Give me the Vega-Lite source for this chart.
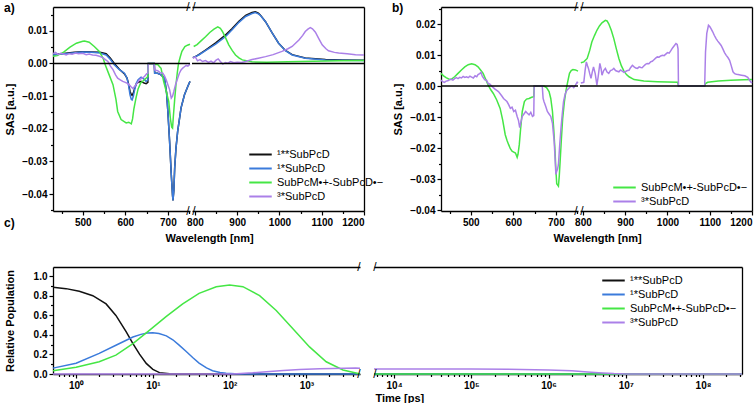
{
"$schema": "https://vega.github.io/schema/vega-lite/v6.json",
"padding": {"left": 4, "top": 1, "right": 4, "bottom": 0},
"datasets": {
"a": [
{"s":"k","w":430,"v":0.0027},{"s":"k","w":445,"v":0.0029},{"s":"k","w":460,"v":0.0031},{"s":"k","w":480,"v":0.0034},{"s":"k","w":500,"v":0.0036},{"s":"k","w":520,"v":0.0035},{"s":"k","w":540,"v":0.0034},{"s":"k","w":555,"v":0.0030},{"s":"k","w":565,"v":0.0016},{"s":"k","w":574,"v":0.0},{"s":"k","w":586,"v":-0.0018},{"s":"k","w":598,"v":-0.0032},{"s":"k","w":604,"v":-0.0045},{"s":"k","w":608,"v":-0.0065},{"s":"k","w":611,"v":-0.0085},{"s":"k","w":614,"v":-0.0095},{"s":"k","w":616,"v":-0.0098},{"s":"k","w":619,"v":-0.009},{"s":"k","w":622,"v":-0.0075},{"s":"k","w":626,"v":-0.0062},{"s":"k","w":630,"v":-0.0058},{"s":"k","w":637,"v":-0.0055},{"s":"k","w":644,"v":-0.006},{"s":"k","w":649,"v":-0.0062},{"s":"k","w":653,"v":-0.0058},{"s":"k","w":654,"v":0},{"s":"k","w":668,"v":0},{"s":"k","w":669,"v":-0.003},{"s":"k","w":676,"v":-0.003},{"s":"k","w":684,"v":-0.0035},{"s":"k","w":692,"v":-0.0045},{"s":"k","w":697,"v":-0.009},{"s":"k","w":700,"v":-0.0147},{"s":"k","w":704,"v":-0.0238},{"s":"k","w":708,"v":-0.034},{"s":"k","w":711,"v":-0.0405},{"s":"k","w":712,"v":-0.042},{"s":"k","w":714,"v":-0.039},{"s":"k","w":716,"v":-0.032},{"s":"k","w":719,"v":-0.026},{"s":"k","w":723,"v":-0.0208},{"s":"k","w":731,"v":-0.0136},{"s":"k","w":739,"v":-0.0096},{"s":"k","w":747,"v":-0.007},{"s":"k","w":752,"v":-0.0055},
{"s":"k","w":795,"v":0.0018},{"s":"k","w":801,"v":0.0021},{"s":"k","w":809,"v":0.0027},{"s":"k","w":825,"v":0.0041},{"s":"k","w":849,"v":0.0063},{"s":"k","w":872,"v":0.0087},{"s":"k","w":888,"v":0.0107},{"s":"k","w":904,"v":0.0129},{"s":"k","w":920,"v":0.0147},{"s":"k","w":935,"v":0.0156},{"s":"k","w":943,"v":0.0158},{"s":"k","w":950,"v":0.0154},{"s":"k","w":955,"v":0.0148},{"s":"k","w":967,"v":0.0128},{"s":"k","w":983,"v":0.0093},{"s":"k","w":998,"v":0.0062},{"s":"k","w":1014,"v":0.004},{"s":"k","w":1030,"v":0.0027},{"s":"k","w":1061,"v":0.0017},{"s":"k","w":1109,"v":0.0012},{"s":"k","w":1150,"v":0.0011},{"s":"k","w":1200,"v":0.001},
{"s":"b","w":430,"v":0.0026},{"s":"b","w":445,"v":0.0028},{"s":"b","w":460,"v":0.003},{"s":"b","w":480,"v":0.0033},{"s":"b","w":500,"v":0.0035},{"s":"b","w":520,"v":0.0034},{"s":"b","w":540,"v":0.0032},{"s":"b","w":555,"v":0.0026},{"s":"b","w":565,"v":0.0012},{"s":"b","w":574,"v":-0.0004},{"s":"b","w":586,"v":-0.0019},{"s":"b","w":598,"v":-0.003},{"s":"b","w":604,"v":-0.0045},{"s":"b","w":608,"v":-0.007},{"s":"b","w":611,"v":-0.0096},{"s":"b","w":614,"v":-0.011},{"s":"b","w":616,"v":-0.0112},{"s":"b","w":619,"v":-0.01},{"s":"b","w":622,"v":-0.008},{"s":"b","w":626,"v":-0.006},{"s":"b","w":630,"v":-0.005},{"s":"b","w":637,"v":-0.0042},{"s":"b","w":644,"v":-0.0048},{"s":"b","w":649,"v":-0.0055},{"s":"b","w":653,"v":-0.005},{"s":"b","w":654,"v":0},{"s":"b","w":668,"v":0},{"s":"b","w":669,"v":-0.003},{"s":"b","w":676,"v":-0.003},{"s":"b","w":684,"v":-0.0035},{"s":"b","w":692,"v":-0.0045},{"s":"b","w":697,"v":-0.009},{"s":"b","w":700,"v":-0.0147},{"s":"b","w":704,"v":-0.0238},{"s":"b","w":708,"v":-0.034},{"s":"b","w":711,"v":-0.0405},{"s":"b","w":712,"v":-0.042},{"s":"b","w":714,"v":-0.039},{"s":"b","w":716,"v":-0.032},{"s":"b","w":719,"v":-0.026},{"s":"b","w":723,"v":-0.0208},{"s":"b","w":731,"v":-0.0136},{"s":"b","w":739,"v":-0.0096},{"s":"b","w":747,"v":-0.007},{"s":"b","w":752,"v":-0.0055},
{"s":"b","w":795,"v":0.0018},{"s":"b","w":801,"v":0.0021},{"s":"b","w":809,"v":0.0026},{"s":"b","w":825,"v":0.0039},{"s":"b","w":849,"v":0.0059},{"s":"b","w":872,"v":0.0082},{"s":"b","w":888,"v":0.0103},{"s":"b","w":904,"v":0.0126},{"s":"b","w":920,"v":0.0144},{"s":"b","w":935,"v":0.0153},{"s":"b","w":943,"v":0.0156},{"s":"b","w":950,"v":0.0152},{"s":"b","w":955,"v":0.0147},{"s":"b","w":967,"v":0.0128},{"s":"b","w":983,"v":0.0093},{"s":"b","w":998,"v":0.0062},{"s":"b","w":1014,"v":0.0039},{"s":"b","w":1030,"v":0.0026},{"s":"b","w":1061,"v":0.0016},{"s":"b","w":1109,"v":0.0011},{"s":"b","w":1150,"v":0.001},{"s":"b","w":1200,"v":0.0009},
{"s":"g","w":430,"v":0.0022},{"s":"g","w":440,"v":0.0024},{"s":"g","w":455,"v":0.0035},{"s":"g","w":470,"v":0.005},{"s":"g","w":485,"v":0.0062},{"s":"g","w":500,"v":0.0068},{"s":"g","w":504,"v":0.0069},{"s":"g","w":515,"v":0.0065},{"s":"g","w":527,"v":0.0052},{"s":"g","w":539,"v":0.0037},{"s":"g","w":548,"v":0.0015},{"s":"g","w":553,"v":-0.0005},{"s":"g","w":562,"v":-0.0035},{"s":"g","w":571,"v":-0.0065},{"s":"g","w":578,"v":-0.011},{"s":"g","w":582,"v":-0.0147},{"s":"g","w":590,"v":-0.0172},{"s":"g","w":602,"v":-0.0182},{"s":"g","w":608,"v":-0.018},{"s":"g","w":614,"v":-0.0185},{"s":"g","w":617,"v":-0.017},{"s":"g","w":620,"v":-0.014},{"s":"g","w":625,"v":-0.0106},{"s":"g","w":630,"v":-0.0078},{"s":"g","w":636,"v":-0.006},{"s":"g","w":645,"v":-0.005},{"s":"g","w":653,"v":-0.004},{"s":"g","w":654,"v":0},{"s":"g","w":668,"v":0},{"s":"g","w":669,"v":-0.0003},{"s":"g","w":676,"v":-0.0003},{"s":"g","w":684,"v":-0.0015},{"s":"g","w":690,"v":-0.0055},{"s":"g","w":697,"v":-0.009},{"s":"g","w":702,"v":-0.0116},{"s":"g","w":706,"v":-0.017},{"s":"g","w":709,"v":-0.0195},{"s":"g","w":711,"v":-0.0198},{"s":"g","w":713,"v":-0.016},{"s":"g","w":716,"v":-0.011},{"s":"g","w":719,"v":-0.0065},{"s":"g","w":722,"v":-0.003},{"s":"g","w":725,"v":0.0},{"s":"g","w":729,"v":0.002},{"s":"g","w":733,"v":0.0037},{"s":"g","w":740,"v":0.0052},{"s":"g","w":746,"v":0.0056},{"s":"g","w":752,"v":0.0059},
{"s":"g","w":797,"v":0.0052},{"s":"g","w":805,"v":0.0058},{"s":"g","w":815,"v":0.007},{"s":"g","w":825,"v":0.0082},{"s":"g","w":835,"v":0.0095},{"s":"g","w":845,"v":0.0105},{"s":"g","w":854,"v":0.0112},{"s":"g","w":860,"v":0.0108},{"s":"g","w":865,"v":0.0098},{"s":"g","w":872,"v":0.008},{"s":"g","w":880,"v":0.0057},{"s":"g","w":888,"v":0.004},{"s":"g","w":896,"v":0.0026},{"s":"g","w":904,"v":0.0017},{"s":"g","w":912,"v":0.0011},{"s":"g","w":935,"v":0.0005},{"s":"g","w":970,"v":0.0004},{"s":"g","w":1020,"v":0.0005},{"s":"g","w":1080,"v":0.0007},{"s":"g","w":1140,"v":0.0008},{"s":"g","w":1200,"v":0.0009},
{"s":"p","w":430,"v":0.003},{"s":"p","w":436,"v":0.0034},{"s":"p","w":442,"v":0.0027},{"s":"p","w":448,"v":0.0031},{"s":"p","w":455,"v":0.0029},{"s":"p","w":461,"v":0.0026},{"s":"p","w":468,"v":0.003},{"s":"p","w":475,"v":0.0028},{"s":"p","w":483,"v":0.0032},{"s":"p","w":490,"v":0.003},{"s":"p","w":500,"v":0.0031},{"s":"p","w":508,"v":0.0027},{"s":"p","w":515,"v":0.0029},{"s":"p","w":523,"v":0.0026},{"s":"p","w":531,"v":0.0025},{"s":"p","w":539,"v":0.0022},{"s":"p","w":547,"v":0.0018},{"s":"p","w":553,"v":0.0012},{"s":"p","w":559,"v":0.0006},{"s":"p","w":565,"v":-0.0008},{"s":"p","w":571,"v":-0.0019},{"s":"p","w":577,"v":-0.0035},{"s":"p","w":582,"v":-0.0045},{"s":"p","w":588,"v":-0.005},{"s":"p","w":594,"v":-0.0055},{"s":"p","w":600,"v":-0.0058},{"s":"p","w":606,"v":-0.0062},{"s":"p","w":611,"v":-0.0068},{"s":"p","w":614,"v":-0.0072},{"s":"p","w":618,"v":-0.0077},{"s":"p","w":622,"v":-0.007},{"s":"p","w":625,"v":-0.0065},{"s":"p","w":629,"v":-0.0058},{"s":"p","w":633,"v":-0.005},{"s":"p","w":639,"v":-0.0045},{"s":"p","w":645,"v":-0.004},{"s":"p","w":650,"v":-0.0032},{"s":"p","w":653,"v":-0.003},{"s":"p","w":654,"v":0},{"s":"p","w":668,"v":0},{"s":"p","w":669,"v":-0.002},{"s":"p","w":676,"v":-0.0022},{"s":"p","w":682,"v":-0.0028},{"s":"p","w":688,"v":-0.003},{"s":"p","w":692,"v":-0.0038},{"s":"p","w":696,"v":-0.005},{"s":"p","w":700,"v":-0.0065},{"s":"p","w":704,"v":-0.008},{"s":"p","w":708,"v":-0.0106},{"s":"p","w":711,"v":-0.01},{"s":"p","w":714,"v":-0.0086},{"s":"p","w":718,"v":-0.0065},{"s":"p","w":723,"v":-0.0045},{"s":"p","w":727,"v":-0.003},{"s":"p","w":731,"v":-0.002},{"s":"p","w":735,"v":-0.0014},{"s":"p","w":739,"v":-0.001},{"s":"p","w":743,"v":-0.0006},{"s":"p","w":747,"v":-0.0008},{"s":"p","w":752,"v":-0.0002},
{"s":"p","w":795,"v":0.0016},{"s":"p","w":801,"v":0.002},{"s":"p","w":806,"v":0.0008},{"s":"p","w":812,"v":0.0012},{"s":"p","w":818,"v":0.0006},{"s":"p","w":825,"v":0.0009},{"s":"p","w":832,"v":0.0003},{"s":"p","w":838,"v":0.0007},{"s":"p","w":844,"v":0.0002},{"s":"p","w":850,"v":0.001},{"s":"p","w":855,"v":0.0014},{"s":"p","w":860,"v":0.0006},{"s":"p","w":866,"v":-0.0002},{"s":"p","w":872,"v":0.0003},{"s":"p","w":878,"v":0.0001},{"s":"p","w":884,"v":0.0006},{"s":"p","w":892,"v":0.0002},{"s":"p","w":900,"v":0.0004},{"s":"p","w":910,"v":0.0003},{"s":"p","w":920,"v":0.0006},{"s":"p","w":935,"v":0.0012},{"s":"p","w":950,"v":0.0016},{"s":"p","w":967,"v":0.0021},{"s":"p","w":985,"v":0.0027},{"s":"p","w":1006,"v":0.0037},{"s":"p","w":1020,"v":0.0045},{"s":"p","w":1030,"v":0.0052},{"s":"p","w":1046,"v":0.0072},{"s":"p","w":1055,"v":0.0086},{"s":"p","w":1061,"v":0.0098},{"s":"p","w":1068,"v":0.0106},{"s":"p","w":1073,"v":0.011},{"s":"p","w":1078,"v":0.0106},{"s":"p","w":1085,"v":0.0096},{"s":"p","w":1093,"v":0.0076},{"s":"p","w":1101,"v":0.0057},{"s":"p","w":1110,"v":0.0045},{"s":"p","w":1116,"v":0.0039},{"s":"p","w":1130,"v":0.0034},{"s":"p","w":1140,"v":0.0032},{"s":"p","w":1160,"v":0.003},{"s":"p","w":1180,"v":0.0027},{"s":"p","w":1200,"v":0.0026}
],
"b": [
{"s":"g","w":430,"v":0.0041},{"s":"g","w":436,"v":0.0033},{"s":"g","w":442,"v":0.0027},{"s":"g","w":448,"v":0.0023},{"s":"g","w":454,"v":0.0022},{"s":"g","w":462,"v":0.003},{"s":"g","w":470,"v":0.0041},{"s":"g","w":478,"v":0.0052},{"s":"g","w":486,"v":0.0062},{"s":"g","w":494,"v":0.0069},{"s":"g","w":502,"v":0.0072},{"s":"g","w":510,"v":0.0069},{"s":"g","w":517,"v":0.0062},{"s":"g","w":523,"v":0.0052},{"s":"g","w":529,"v":0.0041},{"s":"g","w":535,"v":0.0022},{"s":"g","w":541,"v":0.0003},{"s":"g","w":547,"v":-0.0012},{"s":"g","w":553,"v":-0.0024},{"s":"g","w":561,"v":-0.0045},{"s":"g","w":569,"v":-0.0072},{"s":"g","w":575,"v":-0.011},{"s":"g","w":581,"v":-0.0157},{"s":"g","w":585,"v":-0.0175},{"s":"g","w":589,"v":-0.0189},{"s":"g","w":593,"v":-0.0202},{"s":"g","w":597,"v":-0.021},{"s":"g","w":601,"v":-0.0213},{"s":"g","w":605,"v":-0.0216},{"s":"g","w":609,"v":-0.023},{"s":"g","w":611,"v":-0.022},{"s":"g","w":614,"v":-0.0189},{"s":"g","w":617,"v":-0.014},{"s":"g","w":621,"v":-0.0082},{"s":"g","w":626,"v":-0.005},{"s":"g","w":631,"v":-0.0042},{"s":"g","w":637,"v":-0.004},{"s":"g","w":643,"v":-0.0036},{"s":"g","w":648,"v":-0.0034},{"s":"g","w":649,"v":0},{"s":"g","w":668,"v":0},{"s":"g","w":672,"v":0.0},{"s":"g","w":678,"v":-0.0005},{"s":"g","w":684,"v":-0.0018},{"s":"g","w":688,"v":-0.004},{"s":"g","w":692,"v":-0.0082},{"s":"g","w":695,"v":-0.014},{"s":"g","w":698,"v":-0.021},{"s":"g","w":700,"v":-0.027},{"s":"g","w":702,"v":-0.0315},{"s":"g","w":706,"v":-0.0323},{"s":"g","w":708,"v":-0.029},{"s":"g","w":710,"v":-0.0243},{"s":"g","w":713,"v":-0.017},{"s":"g","w":716,"v":-0.0104},{"s":"g","w":720,"v":-0.005},{"s":"g","w":724,"v":-0.0013},{"s":"g","w":728,"v":0.0015},{"s":"g","w":732,"v":0.0041},{"s":"g","w":736,"v":0.005},{"s":"g","w":740,"v":0.0053},{"s":"g","w":746,"v":0.0052},{"s":"g","w":752,"v":0.0048},
{"s":"g","w":795,"v":0.0075},{"s":"g","w":802,"v":0.0078},{"s":"g","w":810,"v":0.0089},{"s":"g","w":816,"v":0.0115},{"s":"g","w":821,"v":0.0142},{"s":"g","w":827,"v":0.0162},{"s":"g","w":833,"v":0.018},{"s":"g","w":839,"v":0.0194},{"s":"g","w":845,"v":0.0204},{"s":"g","w":853,"v":0.0212},{"s":"g","w":857,"v":0.021},{"s":"g","w":861,"v":0.0201},{"s":"g","w":867,"v":0.018},{"s":"g","w":873,"v":0.0153},{"s":"g","w":879,"v":0.012},{"s":"g","w":885,"v":0.0089},{"s":"g","w":891,"v":0.0065},{"s":"g","w":897,"v":0.0048},{"s":"g","w":903,"v":0.0037},{"s":"g","w":909,"v":0.003},{"s":"g","w":921,"v":0.0021},{"s":"g","w":944,"v":0.0016},{"s":"g","w":976,"v":0.0014},{"s":"g","w":1024,"v":0.0012},{"s":"g","w":1026,"v":0},{"s":"g","w":1088,"v":0},{"s":"g","w":1090,"v":0.0008},{"s":"g","w":1095,"v":0.0012},{"s":"g","w":1100,"v":0.0013},{"s":"g","w":1120,"v":0.0016},{"s":"g","w":1150,"v":0.0019},{"s":"g","w":1180,"v":0.002},{"s":"g","w":1200,"v":0.0021},
{"s":"p","w":430,"v":0.0019},{"s":"p","w":434,"v":0.0014},{"s":"p","w":438,"v":0.0012},{"s":"p","w":442,"v":0.0016},{"s":"p","w":446,"v":0.0017},{"s":"p","w":450,"v":0.002},{"s":"p","w":454,"v":0.0022},{"s":"p","w":458,"v":0.0019},{"s":"p","w":462,"v":0.0024},{"s":"p","w":466,"v":0.0027},{"s":"p","w":470,"v":0.0024},{"s":"p","w":474,"v":0.0028},{"s":"p","w":478,"v":0.0026},{"s":"p","w":482,"v":0.0031},{"s":"p","w":486,"v":0.0028},{"s":"p","w":490,"v":0.003},{"s":"p","w":494,"v":0.0027},{"s":"p","w":498,"v":0.0032},{"s":"p","w":502,"v":0.0029},{"s":"p","w":506,"v":0.0026},{"s":"p","w":510,"v":0.0033},{"s":"p","w":514,"v":0.003},{"s":"p","w":517,"v":0.0037},{"s":"p","w":521,"v":0.004},{"s":"p","w":524,"v":0.0044},{"s":"p","w":527,"v":0.0032},{"s":"p","w":530,"v":0.0026},{"s":"p","w":533,"v":0.002},{"s":"p","w":537,"v":0.0019},{"s":"p","w":541,"v":0.0008},{"s":"p","w":545,"v":0.0006},{"s":"p","w":549,"v":0.0},{"s":"p","w":553,"v":-0.0005},{"s":"p","w":557,"v":-0.001},{"s":"p","w":561,"v":-0.0014},{"s":"p","w":565,"v":-0.0018},{"s":"p","w":569,"v":-0.0025},{"s":"p","w":573,"v":-0.0032},{"s":"p","w":577,"v":-0.004},{"s":"p","w":581,"v":-0.0045},{"s":"p","w":585,"v":-0.005},{"s":"p","w":589,"v":-0.006},{"s":"p","w":593,"v":-0.0072},{"s":"p","w":597,"v":-0.0068},{"s":"p","w":601,"v":-0.0082},{"s":"p","w":605,"v":-0.0078},{"s":"p","w":609,"v":-0.0098},{"s":"p","w":612,"v":-0.011},{"s":"p","w":615,"v":-0.0134},{"s":"p","w":618,"v":-0.0115},{"s":"p","w":621,"v":-0.0098},{"s":"p","w":625,"v":-0.009},{"s":"p","w":629,"v":-0.0082},{"s":"p","w":633,"v":-0.0088},{"s":"p","w":637,"v":-0.0093},{"s":"p","w":641,"v":-0.0085},{"s":"p","w":645,"v":-0.0098},{"s":"p","w":648,"v":-0.0095},{"s":"p","w":649,"v":0},{"s":"p","w":668,"v":0},{"s":"p","w":670,"v":-0.004},{"s":"p","w":672,"v":-0.005},{"s":"p","w":676,"v":-0.0065},{"s":"p","w":680,"v":-0.0082},{"s":"p","w":684,"v":-0.009},{"s":"p","w":688,"v":-0.0098},{"s":"p","w":692,"v":-0.012},{"s":"p","w":694,"v":-0.015},{"s":"p","w":696,"v":-0.0178},{"s":"p","w":698,"v":-0.023},{"s":"p","w":700,"v":-0.0285},{"s":"p","w":702,"v":-0.0275},{"s":"p","w":704,"v":-0.0268},{"s":"p","w":706,"v":-0.0253},{"s":"p","w":709,"v":-0.019},{"s":"p","w":712,"v":-0.0136},{"s":"p","w":715,"v":-0.009},{"s":"p","w":718,"v":-0.005},{"s":"p","w":722,"v":-0.0025},{"s":"p","w":726,"v":-0.0013},{"s":"p","w":730,"v":-0.0008},{"s":"p","w":734,"v":-0.0002},{"s":"p","w":738,"v":0.0},{"s":"p","w":742,"v":-0.0005},{"s":"p","w":746,"v":0.0003},{"s":"p","w":750,"v":0.0012},{"s":"p","w":752,"v":0.0009},
{"s":"p","w":795,"v":0.001},{"s":"p","w":802,"v":0.0012},{"s":"p","w":805,"v":0.005},{"s":"p","w":808,"v":0.0078},{"s":"p","w":811,"v":0.0065},{"s":"p","w":813,"v":0.0057},{"s":"p","w":816,"v":0.004},{"s":"p","w":819,"v":0.0025},{"s":"p","w":822,"v":0.0045},{"s":"p","w":825,"v":0.0062},{"s":"p","w":829,"v":0.004},{"s":"p","w":833,"v":0.0003},{"s":"p","w":836,"v":0.003},{"s":"p","w":840,"v":0.0073},{"s":"p","w":843,"v":0.0055},{"s":"p","w":845,"v":0.0035},{"s":"p","w":849,"v":0.005},{"s":"p","w":853,"v":0.0057},{"s":"p","w":857,"v":0.0045},{"s":"p","w":861,"v":0.0041},{"s":"p","w":865,"v":0.005},{"s":"p","w":869,"v":0.0052},{"s":"p","w":873,"v":0.0057},{"s":"p","w":877,"v":0.005},{"s":"p","w":881,"v":0.0048},{"s":"p","w":885,"v":0.0046},{"s":"p","w":889,"v":0.0052},{"s":"p","w":893,"v":0.0048},{"s":"p","w":897,"v":0.0044},{"s":"p","w":901,"v":0.0047},{"s":"p","w":905,"v":0.005},{"s":"p","w":909,"v":0.0051},{"s":"p","w":913,"v":0.006},{"s":"p","w":917,"v":0.0067},{"s":"p","w":921,"v":0.0062},{"s":"p","w":925,"v":0.0058},{"s":"p","w":929,"v":0.0057},{"s":"p","w":933,"v":0.0062},{"s":"p","w":937,"v":0.006},{"s":"p","w":940,"v":0.0059},{"s":"p","w":944,"v":0.0065},{"s":"p","w":948,"v":0.007},{"s":"p","w":952,"v":0.0073},{"s":"p","w":956,"v":0.0072},{"s":"p","w":960,"v":0.0078},{"s":"p","w":964,"v":0.008},{"s":"p","w":968,"v":0.0085},{"s":"p","w":972,"v":0.009},{"s":"p","w":976,"v":0.0094},{"s":"p","w":980,"v":0.0093},{"s":"p","w":984,"v":0.0097},{"s":"p","w":988,"v":0.0099},{"s":"p","w":992,"v":0.0098},{"s":"p","w":996,"v":0.0103},{"s":"p","w":1000,"v":0.0108},{"s":"p","w":1004,"v":0.0106},{"s":"p","w":1008,"v":0.0114},{"s":"p","w":1012,"v":0.0123},{"s":"p","w":1016,"v":0.013},{"s":"p","w":1020,"v":0.0137},{"s":"p","w":1023,"v":0.0134},{"s":"p","w":1025,"v":0.012},{"s":"p","w":1026,"v":0},{"s":"p","w":1088,"v":0},{"s":"p","w":1090,"v":0.011},{"s":"p","w":1093,"v":0.017},{"s":"p","w":1097,"v":0.0196},{"s":"p","w":1100,"v":0.0192},{"s":"p","w":1103,"v":0.0185},{"s":"p","w":1107,"v":0.0175},{"s":"p","w":1111,"v":0.0163},{"s":"p","w":1115,"v":0.0153},{"s":"p","w":1119,"v":0.0145},{"s":"p","w":1123,"v":0.0138},{"s":"p","w":1127,"v":0.0131},{"s":"p","w":1131,"v":0.012},{"s":"p","w":1135,"v":0.0108},{"s":"p","w":1139,"v":0.0099},{"s":"p","w":1143,"v":0.0092},{"s":"p","w":1147,"v":0.0083},{"s":"p","w":1151,"v":0.0065},{"s":"p","w":1155,"v":0.0046},{"s":"p","w":1159,"v":0.004},{"s":"p","w":1163,"v":0.0038},{"s":"p","w":1167,"v":0.0037},{"s":"p","w":1175,"v":0.0035},{"s":"p","w":1183,"v":0.0033},{"s":"p","w":1190,"v":0.0028},{"s":"p","w":1194,"v":0.0019},{"s":"p","w":1198,"v":0.0012},{"s":"p","w":1200,"v":0.001}
],
"c": [
{"s":"k","t":0.5,"v":0.885},{"s":"k","t":0.74,"v":0.872},{"s":"k","t":1.1,"v":0.845},{"s":"k","t":1.65,"v":0.8},{"s":"k","t":2.46,"v":0.716},{"s":"k","t":3.3,"v":0.598},{"s":"k","t":4.5,"v":0.43},{"s":"k","t":5.5,"v":0.311},{"s":"k","t":6.7,"v":0.203},{"s":"k","t":8.2,"v":0.108},{"s":"k","t":10,"v":0.047},{"s":"k","t":12.2,"v":0.014},{"s":"k","t":16.5,"v":0.002},{"s":"k","t":25,"v":0},{"s":"k","t":5000,"v":0},{"s":"k","t":5500,"v":0},{"s":"k","t":320000000,"v":0},
{"s":"b","t":0.5,"v":0.06},{"s":"b","t":1,"v":0.11},{"s":"b","t":2,"v":0.21},{"s":"b","t":3.3,"v":0.294},{"s":"b","t":5.5,"v":0.378},{"s":"b","t":7,"v":0.405},{"s":"b","t":8.5,"v":0.419},{"s":"b","t":10,"v":0.422},{"s":"b","t":12,"v":0.414},{"s":"b","t":15,"v":0.39},{"s":"b","t":18.2,"v":0.35},{"s":"b","t":22,"v":0.295},{"s":"b","t":27,"v":0.232},{"s":"b","t":33,"v":0.168},{"s":"b","t":40,"v":0.112},{"s":"b","t":50,"v":0.062},{"s":"b","t":60,"v":0.034},{"s":"b","t":75,"v":0.015},{"s":"b","t":90,"v":0.007},{"s":"b","t":134,"v":0},{"s":"b","t":5000,"v":0},{"s":"b","t":5500,"v":0},{"s":"b","t":320000000,"v":0},
{"s":"g","t":0.5,"v":0.034},{"s":"g","t":1,"v":0.068},{"s":"g","t":2,"v":0.125},{"s":"g","t":3.3,"v":0.193},{"s":"g","t":5.5,"v":0.311},{"s":"g","t":9,"v":0.446},{"s":"g","t":15,"v":0.588},{"s":"g","t":24.5,"v":0.716},{"s":"g","t":40,"v":0.824},{"s":"g","t":67,"v":0.892},{"s":"g","t":100,"v":0.909},{"s":"g","t":149,"v":0.892},{"s":"g","t":246,"v":0.801},{"s":"g","t":405,"v":0.649},{"s":"g","t":668,"v":0.463},{"s":"g","t":1100,"v":0.277},{"s":"g","t":1815,"v":0.125},{"s":"g","t":3000,"v":0.041},{"s":"g","t":4900,"v":0.002},{"s":"g","t":5000,"v":0},{"s":"g","t":5500,"v":0},{"s":"g","t":320000000,"v":0},
{"s":"p","t":0.5,"v":0},{"s":"p","t":110,"v":0},{"s":"p","t":200,"v":0.012},{"s":"p","t":302,"v":0.024},{"s":"p","t":500,"v":0.035},{"s":"p","t":818,"v":0.047},{"s":"p","t":1500,"v":0.053},{"s":"p","t":2223,"v":0.057},{"s":"p","t":4400,"v":0.061},{"s":"p","t":5000,"v":0.06},{"s":"p","t":5500,"v":0.052},{"s":"p","t":10000,"v":0.052},{"s":"p","t":100000,"v":0.051},{"s":"p","t":300000,"v":0.048},{"s":"p","t":1000000,"v":0.041},{"s":"p","t":2000000,"v":0.032},{"s":"p","t":3200000,"v":0.02},{"s":"p","t":5000000,"v":0.01},{"s":"p","t":7000000,"v":0.004},{"s":"p","t":10000000,"v":0.001},{"s":"p","t":20000000,"v":0},{"s":"p","t":320000000,"v":0}
]
},
"vconcat": [
{
"hconcat": [
{
"hconcat": [
{
"width": 137, "height": 204,
"layer": [
{"data": {"name": "a"}, "transform": [{"filter": "datum.w <= 752"}],
 "mark": {"type": "line", "strokeWidth": 1.5},
 "encoding": {
  "x": {"field": "w", "type": "quantitative", "scale": {"domain": [430, 752], "nice": false, "zero": false}, "axis": {"orient": "bottom", "values": [500, 600, 700], "format": "d", "title": "Wavelength [nm]", "titleX": 112, "titleAlign": "left", "titlePadding": 5}},
  "y": {"field": "v", "type": "quantitative", "scale": {"domain": [-0.0452, 0.0173], "nice": false, "zero": false}, "axis": {"orient": "left", "values": [-0.04, -0.03, -0.02, -0.01, 0, 0.01], "format": ".2f", "title": "SAS [a.u.]", "minExtent": 34, "maxExtent": 34, "titlePadding": 4}},
  "color": {"field": "s", "type": "nominal", "scale": {"domain": ["k", "b", "g", "p"], "range": ["#111111", "#3b7bdb", "#45e645", "#ab80e8"]}, "legend": null}
 }},
{"data": {"values": [{}]}, "mark": {"type": "rule", "strokeWidth": 1.5, "color": "#000"}, "encoding": {"y": {"datum": 0, "axis": null}}},
{"data": {"values": [{}]}, "mark": {"type": "text", "text": "/", "fontSize": 12, "dx": -2, "color": "#000"}, "encoding": {"x": {"datum": 752, "axis": {"orient": "top", "labels": false, "ticks": false, "title": null}}, "y": {"datum": 0.0173, "axis": null}}},
{"data": {"values": [{}]}, "mark": {"type": "text", "text": "/", "fontSize": 12, "dx": -2, "color": "#000"}, "encoding": {"x": {"datum": 752, "axis": {"orient": "bottom", "values": [450, 550, 650, 750], "labels": false, "domain": false, "tickSize": 2.5, "title": null}}, "y": {"datum": -0.0452, "axis": {"orient": "left", "values": [-0.045, -0.035, -0.025, -0.015, -0.005, 0.005, 0.015], "labels": false, "domain": false, "tickSize": 2.5, "title": null}}}}
],
"resolve": {"axis": {"x": "independent", "y": "independent"}}
},
{
"width": 172, "height": 204,
"layer": [
{"data": {"name": "a"}, "transform": [{"filter": "datum.w >= 790"}],
 "mark": {"type": "line", "strokeWidth": 1.5},
 "encoding": {
  "x": {"field": "w", "type": "quantitative", "scale": {"domain": [793, 1200], "nice": false, "zero": false}, "axis": {"orient": "bottom", "values": [800, 900, 1000, 1100, 1200], "format": "d", "title": null}},
  "y": {"field": "v", "type": "quantitative", "scale": {"domain": [-0.0452, 0.0173], "nice": false, "zero": false}, "axis": null},
  "color": {"field": "s", "type": "nominal", "scale": {"domain": ["k", "b", "g", "p"], "range": ["#111111", "#3b7bdb", "#45e645", "#ab80e8"]},
   "legend": {"title": null, "orient": "none", "legendX": 60, "legendY": 139, "labelExpr": "datum.label == 'k' ? '¹**SubPcD' : datum.label == 'b' ? '¹*SubPcD' : datum.label == 'g' ? 'SubPcM•+-SubPcD•−' : '³*SubPcD'"}}
 }},
{"data": {"values": [{}]}, "mark": {"type": "rule", "strokeWidth": 1.5, "color": "#000"}, "encoding": {"y": {"datum": 0, "axis": null}}},
{"data": {"values": [{}]}, "mark": {"type": "text", "text": "/", "fontSize": 12, "dx": 2, "color": "#000"}, "encoding": {"x": {"datum": 793, "axis": {"orient": "top", "labels": false, "ticks": false, "title": null}}, "y": {"datum": 0.0173, "axis": {"orient": "right", "labels": false, "ticks": false, "title": null}}}},
{"data": {"values": [{}]}, "mark": {"type": "text", "text": "/", "fontSize": 12, "dx": 2, "color": "#000"}, "encoding": {"x": {"datum": 793, "axis": {"orient": "bottom", "values": [850, 950, 1050, 1150], "labels": false, "domain": false, "tickSize": 2.5, "title": null}}, "y": {"datum": -0.0452, "axis": null}}}
],
"resolve": {"axis": {"x": "independent", "y": "independent"}}
}
],
"spacing": 2, "bounds": "flush",
"title": {"text": "a)", "anchor": "start", "frame": "bounds", "offset": -14, "fontSize": 12, "fontWeight": "bold", "color": "#000"},
"resolve": {"scale": {"color": "independent"}, "legend": {"color": "independent"}}
},
{
"hconcat": [
{
"width": 137, "height": 204,
"layer": [
{"data": {"name": "b"}, "transform": [{"filter": "datum.w <= 752"}],
 "mark": {"type": "line", "strokeWidth": 1.5},
 "encoding": {
  "x": {"field": "w", "type": "quantitative", "scale": {"domain": [430, 752], "nice": false, "zero": false}, "axis": {"orient": "bottom", "values": [500, 600, 700], "format": "d", "title": "Wavelength [nm]", "titleX": 112, "titleAlign": "left", "titlePadding": 5}},
  "y": {"field": "v", "type": "quantitative", "scale": {"domain": [-0.0403, 0.0255], "nice": false, "zero": false}, "axis": {"orient": "left", "values": [-0.04, -0.03, -0.02, -0.01, 0, 0.01, 0.02], "format": ".2f", "title": "SAS [a.u.]", "minExtent": 34, "maxExtent": 34, "titlePadding": 4}},
  "color": {"field": "s", "type": "nominal", "scale": {"domain": ["g", "p"], "range": ["#45e645", "#ab80e8"]}, "legend": null}
 }},
{"data": {"values": [{}]}, "mark": {"type": "rule", "strokeWidth": 1.5, "color": "#000"}, "encoding": {"y": {"datum": 0, "axis": null}}},
{"data": {"values": [{}]}, "mark": {"type": "text", "text": "/", "fontSize": 12, "dx": -2, "color": "#000"}, "encoding": {"x": {"datum": 752, "axis": {"orient": "top", "labels": false, "ticks": false, "title": null}}, "y": {"datum": 0.0255, "axis": null}}},
{"data": {"values": [{}]}, "mark": {"type": "text", "text": "/", "fontSize": 12, "dx": -2, "color": "#000"}, "encoding": {"x": {"datum": 752, "axis": {"orient": "bottom", "values": [450, 550, 650, 750], "labels": false, "domain": false, "tickSize": 2.5, "title": null}}, "y": {"datum": -0.0403, "axis": {"orient": "left", "values": [-0.035, -0.025, -0.015, -0.005, 0.005, 0.015, 0.025], "labels": false, "domain": false, "tickSize": 2.5, "title": null}}}}
],
"resolve": {"axis": {"x": "independent", "y": "independent"}}
},
{
"width": 172, "height": 204,
"layer": [
{"data": {"name": "b"}, "transform": [{"filter": "datum.w >= 790"}],
 "mark": {"type": "line", "strokeWidth": 1.5},
 "encoding": {
  "x": {"field": "w", "type": "quantitative", "scale": {"domain": [793, 1200], "nice": false, "zero": false}, "axis": {"orient": "bottom", "values": [800, 900, 1000, 1100, 1200], "format": "d", "title": null}},
  "y": {"field": "v", "type": "quantitative", "scale": {"domain": [-0.0403, 0.0255], "nice": false, "zero": false}, "axis": null},
  "color": {"field": "s", "type": "nominal", "scale": {"domain": ["g", "p"], "range": ["#45e645", "#ab80e8"]},
   "legend": {"title": null, "orient": "bottom-right", "offset": 4, "labelExpr": "datum.label == 'g' ? 'SubPcM•+-SubPcD•−' : '³*SubPcD'"}}
 }},
{"data": {"values": [{}]}, "mark": {"type": "rule", "strokeWidth": 1.5, "color": "#000"}, "encoding": {"y": {"datum": 0, "axis": null}}},
{"data": {"values": [{}]}, "mark": {"type": "text", "text": "/", "fontSize": 12, "dx": 2, "color": "#000"}, "encoding": {"x": {"datum": 793, "axis": {"orient": "top", "labels": false, "ticks": false, "title": null}}, "y": {"datum": 0.0255, "axis": {"orient": "right", "labels": false, "ticks": false, "title": null}}}},
{"data": {"values": [{}]}, "mark": {"type": "text", "text": "/", "fontSize": 12, "dx": 2, "color": "#000"}, "encoding": {"x": {"datum": 793, "axis": {"orient": "bottom", "values": [850, 950, 1050, 1150], "labels": false, "domain": false, "tickSize": 2.5, "title": null}}, "y": {"datum": -0.0403, "axis": null}}}
],
"resolve": {"axis": {"x": "independent", "y": "independent"}}
}
],
"spacing": 2, "bounds": "flush",
"title": {"text": "b)", "anchor": "start", "frame": "bounds", "offset": -14, "fontSize": 12, "fontWeight": "bold", "color": "#000"},
"resolve": {"scale": {"color": "independent"}, "legend": {"color": "independent"}}
}
],
"spacing": 8,
"resolve": {"scale": {"color": "independent"}, "legend": {"color": "independent"}}
},
{
"hconcat": [
{
"width": 307, "height": 107,
"layer": [
{"data": {"name": "c"}, "transform": [{"filter": "datum.t <= 5000"}],
 "mark": {"type": "line", "strokeWidth": 1.5},
 "encoding": {
  "x": {"field": "t", "type": "quantitative", "scale": {"type": "log", "domain": [0.5, 5000], "nice": false}, "axis": {"orient": "bottom", "values": [1, 10, 100, 1000], "title": null, "labelExpr": "datum.value == 1 ? '10⁰' : datum.value == 10 ? '10¹' : datum.value == 100 ? '10²' : '10³'"}},
  "y": {"field": "v", "type": "quantitative", "scale": {"domain": [0, 1.093], "nice": false, "zero": false}, "axis": {"orient": "left", "values": [0, 0.2, 0.4, 0.6, 0.8, 1.0], "format": ".1f", "title": "Relative Population", "minExtent": 34, "maxExtent": 34, "titlePadding": 4}},
  "color": {"field": "s", "type": "nominal", "scale": {"domain": ["k", "b", "g", "p"], "range": ["#111111", "#3b7bdb", "#45e645", "#ab80e8"]}, "legend": null}
 }},
{"data": {"values": [{}]}, "mark": {"type": "text", "text": "/", "fontSize": 12, "dx": -1, "color": "#000"}, "encoding": {"x": {"datum": 5000, "axis": {"orient": "top", "labels": false, "ticks": false, "title": null}}, "y": {"datum": 1.093, "axis": null}}},
{"data": {"values": [{}]}, "mark": {"type": "text", "text": "/", "fontSize": 12, "dx": -1, "color": "#000"}, "encoding": {"x": {"datum": 5000, "axis": {"orient": "bottom", "values": [0.6, 0.7, 0.8, 0.9, 2, 3, 4, 5, 6, 7, 8, 9, 20, 30, 40, 50, 60, 70, 80, 90, 200, 300, 400, 500, 600, 700, 800, 900, 2000, 3000, 4000], "labels": false, "domain": false, "tickSize": 2.5, "title": null}}, "y": {"datum": 0, "axis": {"orient": "left", "values": [0.1, 0.3, 0.5, 0.7, 0.9], "labels": false, "domain": false, "tickSize": 2.5, "title": null}}}}
],
"resolve": {"axis": {"x": "independent", "y": "independent"}}
},
{
"width": 368, "height": 107,
"layer": [
{"data": {"name": "c"}, "transform": [{"filter": "datum.t >= 5500"}],
 "mark": {"type": "line", "strokeWidth": 1.5},
 "encoding": {
  "x": {"field": "t", "type": "quantitative", "scale": {"type": "log", "domain": [5500, 320000000], "nice": false}, "axis": {"orient": "bottom", "values": [10000, 100000, 1000000, 10000000, 100000000], "title": "Time [ps]", "titleX": 1, "titleAlign": "left", "titlePadding": 2, "labelExpr": "datum.value == 10000 ? '10⁴' : datum.value == 100000 ? '10⁵' : datum.value == 1000000 ? '10⁶' : datum.value == 10000000 ? '10⁷' : '10⁸'"}},
  "y": {"field": "v", "type": "quantitative", "scale": {"domain": [0, 1.093], "nice": false, "zero": false}, "axis": null},
  "color": {"field": "s", "type": "nominal", "scale": {"domain": ["k", "b", "g", "p"], "range": ["#111111", "#3b7bdb", "#45e645", "#ab80e8"]},
   "legend": {"title": null, "orient": "top-right", "offset": 5, "labelExpr": "datum.label == 'k' ? '¹**SubPcD' : datum.label == 'b' ? '¹*SubPcD' : datum.label == 'g' ? 'SubPcM•+-SubPcD•−' : '³*SubPcD'"}}
 }},
{"data": {"values": [{}]}, "mark": {"type": "text", "text": "/", "fontSize": 12, "dx": 1, "color": "#000"}, "encoding": {"x": {"datum": 5500, "axis": {"orient": "top", "labels": false, "ticks": false, "title": null}}, "y": {"datum": 1.093, "axis": {"orient": "right", "labels": false, "ticks": false, "title": null}}}},
{"data": {"values": [{}]}, "mark": {"type": "text", "text": "/", "fontSize": 12, "dx": 1, "color": "#000"}, "encoding": {"x": {"datum": 5500, "axis": {"orient": "bottom", "values": [6000, 7000, 8000, 9000, 20000, 30000, 40000, 50000, 60000, 70000, 80000, 90000, 200000, 300000, 400000, 500000, 600000, 700000, 800000, 900000, 2000000, 3000000, 4000000, 5000000, 6000000, 7000000, 8000000, 9000000, 20000000, 30000000, 40000000, 50000000, 60000000, 70000000, 80000000, 90000000, 200000000, 300000000], "labels": false, "domain": false, "tickSize": 2.5, "title": null}}, "y": {"datum": 0, "axis": null}}}
],
"resolve": {"axis": {"x": "independent", "y": "independent"}}
}
],
"spacing": 14, "bounds": "flush",
"title": {"text": "c)", "anchor": "start", "frame": "bounds", "offset": 31, "fontSize": 12, "fontWeight": "bold", "color": "#000"},
"resolve": {"scale": {"color": "independent"}, "legend": {"color": "independent"}}
}
],
"spacing": -26,
"resolve": {"scale": {"color": "independent"}, "legend": {"color": "independent"}},
"config": {
 "font": "Liberation Sans",
 "view": {"stroke": null},
 "axis": {"grid": false, "domainColor": "#000", "domainWidth": 1.3, "tickColor": "#000", "tickSize": 4, "tickWidth": 1.2, "labelColor": "#000", "labelFont": "Liberation Sans", "labelFontSize": 10, "labelFontWeight": "bold", "labelPadding": 2, "titleColor": "#000", "titleFont": "Liberation Sans", "titleFontSize": 11, "titleFontWeight": "bold"},
 "legend": {"labelFont": "Liberation Sans", "labelFontSize": 11, "labelColor": "#000", "symbolType": "M-1.5,0H1.5", "symbolSize": 225, "symbolStrokeWidth": 2, "rowPadding": 0, "labelOffset": 8, "padding": 0},
 "title": {"font": "Liberation Sans", "color": "#000"}
}
}
